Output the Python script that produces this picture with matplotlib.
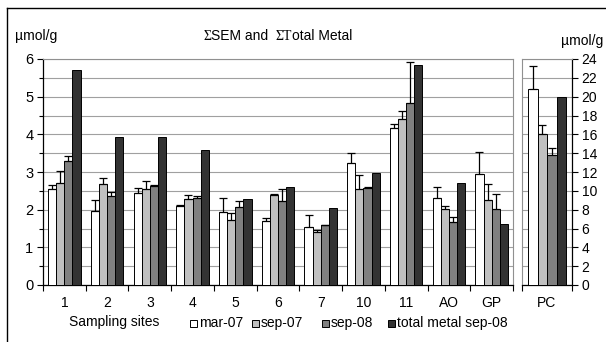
import matplotlib
matplotlib.use("Agg")
import matplotlib.pyplot as plt
import numpy as np
from matplotlib.lines import Line2D
from matplotlib.patches import Rectangle

plt.rcParams["font.family"] = ["Liberation Sans", "DejaVu Sans"]

# sites on the left scale (0-6)
sites = ["1", "2", "3", "4", "5", "6", "7", "10", "11", "AO", "GP"]
mar07 = [2.55, 1.97, 2.45, 2.10, 1.93, 1.70, 1.55, 3.25, 4.17, 2.30, 2.95]
sep07 = [2.70, 2.68, 2.55, 2.27, 1.73, 2.40, 1.40, 2.55, 4.42, 2.03, 2.25]
sep08 = [3.30, 2.35, 2.62, 2.30, 2.07, 2.23, 1.58, 2.58, 4.83, 1.68, 2.02]
total08 = [5.72, 3.93, 3.93, 3.58, 2.27, 2.60, 2.05, 2.98, 5.83, 2.70, 1.63]
mar07_err = [0.10, 0.28, 0.13, 0.03, 0.37, 0.08, 0.30, 0.25, 0.10, 0.30, 0.57]
sep07_err = [0.32, 0.17, 0.20, 0.13, 0.19, 0.02, 0.05, 0.37, 0.20, 0.06, 0.42]
sep08_err = [0.12, 0.13, 0.03, 0.07, 0.16, 0.32, 0.0, 0.02, 1.09, 0.12, 0.40]

# PC on the right scale (0-24)
pc_label = ["PC"]
pc_vals = [20.8, 16.0, 13.8, 20.0]
pc_err = [2.5, 1.0, 0.7, 0.0]

series = ["mar-07", "sep-07", "sep-08", "total metal sep-08"]
colors = ["#FFFFFF", "#C0C0C0", "#808080", "#333333"]

W, H = 606, 342
fig = plt.figure(figsize=(W / 100, H / 100), dpi=100)

def fx(px):
    return px / W

def fy(py):
    return 1 - py / H

ax = fig.add_axes([fx(43), fy(285), fx(513) - fx(43), fy(59) - fy(285)])
ax2 = fig.add_axes([fx(522), fy(285), fx(572) - fx(522), fy(59) - fy(285)])

bw = 0.19
x = np.arange(len(sites))
left_vals = [mar07, sep07, sep08, total08]
left_errs = [mar07_err, sep07_err, sep08_err, None]
ekw = dict(ecolor="black", elinewidth=0.9, capsize=3, capthick=0.9)
for i, (vals, errs, c) in enumerate(zip(left_vals, left_errs, colors)):
    pos = x + (i - 1.5) * bw
    ax.bar(pos, vals, bw, color=c, edgecolor="black", linewidth=0.7, zorder=3)
    if errs is not None:
        ax.errorbar(pos, vals, yerr=[np.zeros(len(errs)), errs], fmt="none",
                    zorder=4, **ekw)

ax.set_xlim(-0.5, len(sites) - 0.5)
ax.set_ylim(0, 6)
ax.set_yticks(range(0, 7))
ax.set_yticks(np.arange(0.5, 6, 1.0), minor=True)
ax.set_xticks(np.arange(-0.5, len(sites), 1.0))
ax.set_xticklabels([])
ax.set_xticks(x, minor=True)
ax.set_xticklabels(sites, minor=True, fontsize=10)
ax.tick_params(axis="x", which="minor", length=0, pad=8)
ax.tick_params(axis="x", which="major", length=4, width=0.8, direction="out")
ax.tick_params(axis="y", which="major", length=4, width=0.8, labelsize=10.5, pad=3)
ax.tick_params(axis="y", which="minor", length=3, width=0.8)
ax.grid(axis="y", which="both", color="#A0A0A0", linewidth=0.8, zorder=0)
for s in ["top", "right"]:
    ax.spines[s].set_color("#909090")
    ax.spines[s].set_linewidth(0.8)
for s in ["left", "bottom"]:
    ax.spines[s].set_linewidth(0.9)

# PC panel
for i, (v, e, c) in enumerate(zip(pc_vals, pc_err, colors)):
    pos = (i - 1.5) * bw
    ax2.bar(pos, v, bw, color=c, edgecolor="black", linewidth=0.7, zorder=3)
    if e > 0:
        ax2.errorbar(pos, v, yerr=[[0], [e]], fmt="none", zorder=4, **ekw)
ax2.set_xlim(-0.5, 0.5)
ax2.set_ylim(0, 24)
ax2.set_yticks(range(0, 25, 2))
ax2.yaxis.tick_right()
ax2.set_xticks([-0.5, 0.5])
ax2.set_xticklabels([])
ax2.set_xticks([0], minor=True)
ax2.set_xticklabels(pc_label, minor=True, fontsize=10)
ax2.tick_params(axis="x", which="minor", length=0, pad=8)
ax2.tick_params(axis="x", which="major", length=4, width=0.8)
ax2.tick_params(axis="y", length=4, width=0.8, labelsize=10, pad=3)
ax2.grid(axis="y", color="#A0A0A0", linewidth=0.8, zorder=0)
for s in ["top", "left"]:
    ax2.spines[s].set_color("#909090")
    ax2.spines[s].set_linewidth(0.8)
for s in ["right", "bottom"]:
    ax2.spines[s].set_linewidth(0.9)

# unit labels and title
fig.text(fx(15), fy(36), "\u00b5mol/g", fontsize=10, va="center", ha="left")
fig.text(fx(561), fy(41), "\u00b5mol/g", fontsize=10, va="center", ha="left")

fig.canvas.draw()
renderer = fig.canvas.get_renderer()
pieces = [("\u03a3", "Liberation Serif"), ("SEM and  ", "Liberation Sans"),
          ("\u03a3T", "Liberation Serif"), ("otal Metal", "Liberation Sans")]
tx = 203
for txt, fam in pieces:
    t = fig.text(fx(tx), fy(36), txt, fontsize=10, family=fam, va="center", ha="left")
    bb = t.get_window_extent(renderer)
    tx += bb.width

fig.text(fx(114), fy(322), "Sampling sites", fontsize=10, ha="center", va="center")

# legend row
leg_x = [190, 252, 322, 388]
for lx, lab, c in zip(leg_x, series, colors):
    fig.patches.append(Rectangle((fx(lx), fy(327)), fx(7), fy(320) - fy(327),
                                 transform=fig.transFigure, facecolor=c,
                                 edgecolor="black", linewidth=0.7))
    fig.text(fx(lx + 9), fy(323), lab, fontsize=10, ha="left", va="center")

# chart area border
fig.lines.append(Line2D([fx(6.5), fx(6.5)], [0, fy(7.5)], transform=fig.transFigure,
                        color="black", linewidth=1))
fig.lines.append(Line2D([fx(6.5), 1], [fy(7.5), fy(7.5)], transform=fig.transFigure,
                        color="black", linewidth=1))

fig.savefig("out.png", dpi=100)
